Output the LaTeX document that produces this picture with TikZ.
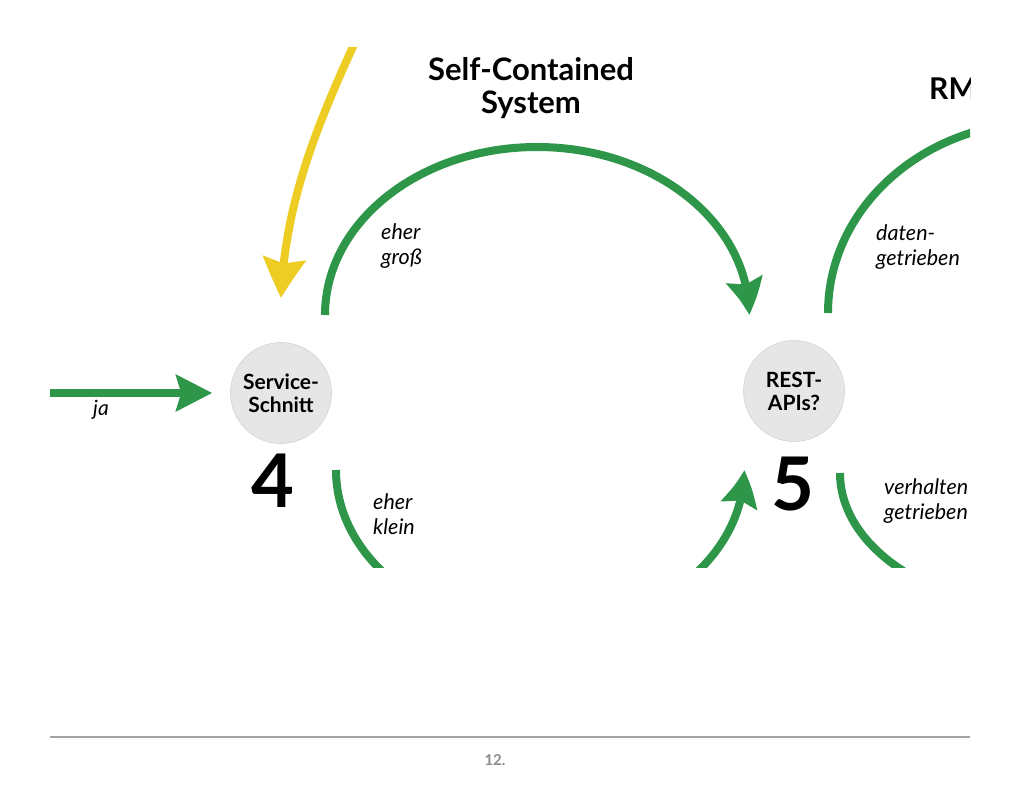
\documentclass[tikz,border=0pt]{standalone}
\usepackage{fontspec}
\setmainfont{Lato}
\usetikzlibrary{arrows.meta,bending,positioning}
\definecolor{arcgreen}{HTML}{2E9648}
\definecolor{pathyellow}{HTML}{EDCD23}
\definecolor{nodegray}{HTML}{E6E6E6}
\definecolor{footgray}{HTML}{8C8C8C}
\tikzset{
  qnode/.style={circle, fill=nodegray, draw=nodegray!92!black, line width=0.6pt,
    minimum size=101pt, inner sep=0pt, align=center,
    font=\bfseries\fontsize{21}{23}\selectfont},
  num/.style={inner sep=0pt, anchor=base, font=\bfseries\fontsize{74}{74}\selectfont},
  lbl/.style={inner sep=0pt, anchor=west, align=left,
    font=\itshape\fontsize{21.5}{25}\selectfont},
  ttl/.style={inner sep=0pt, align=center, font=\bfseries\fontsize{31}{33}\selectfont},
  gline/.style={draw=arcgreen, line width=8pt},
  garrow/.style={gline, -{Stealth[length=36pt,width=36pt,inset=5pt,bend]}},
  yarrow/.style={draw=pathyellow, line width=8pt,
    -{Stealth[length=40pt,width=42pt,inset=5pt,bend]}}}

\begin{document}
\begin{tikzpicture}[x=1pt,y=1pt]
\useasboundingbox (0,0) rectangle (1024,-791);
\fill[white] (0,0) rectangle (1024,-791);

\node[qnode] (s4) at (281,-393) {Service-\\Schnitt};
\node[qnode] (s5) at (794,-391) {REST-\\APIs?};
\node[num] (n4) at (273,-507) {4};
\node[num] (n5) at (793,-510) {5};

\begin{scope}
\clip (50,-48) rectangle (970,-567);
\coordinate (jastart) at (50,-393);
\coordinate (yfrom) at (356,-40);
\coordinate (ytip) at (281,-298);
\coordinate (grossL) at (325,-315);
\coordinate (kleinL) at (336,-470);
\coordinate (datenL) at (828,-313);
\coordinate (verhL) at (840,-473);

\draw[garrow, shorten >=18pt] (jastart) -- (s4);
\draw[yarrow] (yfrom) .. controls (310,-140) and (285,-210) .. (ytip);
\draw[garrow] (grossL) arc[start angle=180, end angle=0, x radius=212, y radius=168];
\draw[garrow] (kleinL) arc[start angle=180, end angle=360, x radius=204, y radius=160];
\draw[gline] (datenL) arc[start angle=180, end angle=90, x radius=214, y radius=191];
\draw[gline] (verhL) arc[start angle=180, end angle=270, x radius=214, y radius=138];

\node[inner sep=0pt, anchor=base west, font=\itshape\fontsize{21}{24}\selectfont] (ja) at (93,-415) {ja};
\node[lbl] (gross) at (381,-246) {eher\\groß};
\node[lbl] (klein) at (373,-514) {eher\\klein};
\node[lbl] (daten) at (876,-247) {daten-\\getrieben};
\node[lbl] (verh) at (884,-501) {verhalten\\getrieben};
\node[ttl] (scs) at (531,-88) {Self-Contained\\System};
\node[inner sep=0pt, anchor=base west, font=\bfseries\fontsize{30}{33}\selectfont] (rm) at (929,-100) {RM};
\end{scope}

\coordinate (footL) at (50,-737);
\coordinate (footR) at (970,-737);
\draw[footgray!80, line width=1.4pt] (footL) -- (footR);
\node[text=footgray, font=\bfseries\fontsize{15}{15}\selectfont] (page) at (495,-760) {12.};
\end{tikzpicture}
\end{document}
